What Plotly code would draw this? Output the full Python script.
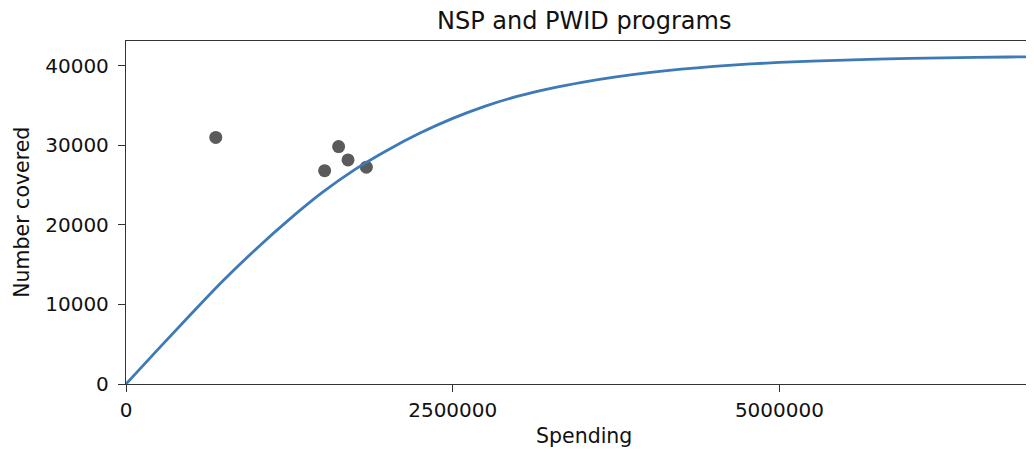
import plotly.graph_objects as go

# Observed data points (spending, number covered)
point_spending = [687000, 1520000, 1627000, 1699000, 1839000]
point_covered = [31000, 26830, 29850, 28180, 27260]

# Fitted cost-coverage curve
curve_spending = [0, 250000, 500000, 750000, 1000000, 1250000, 1500000, 1750000,
                  2000000, 2250000, 2500000, 2750000, 3000000, 3250000, 3500000,
                  3750000, 4000000, 4250000, 4500000, 4750000, 5000000, 5250000,
                  5500000, 5750000, 6000000, 6250000, 6500000, 6750000, 7000000]
curve_covered = [0, 4450, 8830, 13100, 17050, 20700, 24050, 26950,
                 29400, 31550, 33400, 34950, 36200, 37180, 37970,
                 38620, 39150, 39580, 39930, 40210, 40430, 40600,
                 40735, 40845, 40935, 41010, 41070, 41115, 41150]

x_tickvals = [0, 2500000, 5000000]
x_ticktext = ["0", "2500000", "5000000"]
y_tickvals = [0, 10000, 20000, 30000, 40000]
y_ticktext = ["0", "10000", "20000", "30000", "40000"]

title_text = "NSP and PWID programs"
x_label = "Spending"
y_label = "Number covered"

FONT = "DejaVu Sans"
TXT = "#111111"
# page offset of the plot div (default body margin)
OFF = 8
W, H = 1034 - OFF, 454 - OFF
# plot area in page pixels
PL, PR, PT, PB = 126, 1034, 41, 384.5
L, R, T, B = PL - OFF, 0, PT - OFF, OFF + H - PB

pw, ph = PR - PL, PB - PT


def px(xp):
    return (xp - PL) / pw


def py(yp):
    return (PB - yp) / ph


fig = go.Figure()
fig.add_trace(go.Scatter(
    x=point_spending, y=point_covered, mode="markers",
    marker=dict(size=13, color="#5b5b5b", line=dict(width=0)),
    showlegend=False, hoverinfo="skip"))
fig.add_trace(go.Scatter(
    x=curve_spending, y=curve_covered, mode="lines", line_shape="spline",
    line=dict(color="#3d7ab6", width=2.8),
    showlegend=False, hoverinfo="skip"))

fig.update_layout(
    width=W, height=H,
    margin=dict(l=L, r=R, t=T, b=B, pad=0),
    paper_bgcolor="white", plot_bgcolor="white",
    font=dict(family=FONT, size=20, color=TXT),
    xaxis=dict(range=[0, 6948000], tickvals=x_tickvals, ticktext=x_ticktext,
               showgrid=False, zeroline=False, showline=True, mirror=True,
               linecolor="#333333", linewidth=1.3, ticks="outside", ticklen=7,
               tickwidth=1.3, tickcolor="#333333", ticklabelstandoff=1,
               tickfont=dict(size=20, family=FONT, color=TXT)),
    yaxis=dict(range=[0, 43130], tickvals=y_tickvals, ticktext=y_ticktext,
               showgrid=False, zeroline=False, showline=True, mirror=False,
               linecolor="#333333", linewidth=1.3, ticks="outside", ticklen=7,
               tickwidth=1.3, tickcolor="#333333", ticklabelstandoff=5,
               tickfont=dict(size=20, family=FONT, color=TXT)),
    annotations=[
        dict(text=title_text, xref="paper", yref="paper",
             x=px(584), y=py(21), xanchor="center", yanchor="middle",
             showarrow=False, font=dict(size=24, family=FONT, color=TXT)),
        dict(text=x_label, xref="paper", yref="paper",
             x=px(584), y=py(437), xanchor="center", yanchor="middle",
             showarrow=False, font=dict(size=20.5, family=FONT, color=TXT)),
        dict(text=y_label, xref="paper", yref="paper", textangle=-90,
             x=px(22), y=py(213), xanchor="center", yanchor="middle",
             showarrow=False, font=dict(size=20.5, family=FONT, color=TXT)),
    ],
)

fig.write_html("out.html")
